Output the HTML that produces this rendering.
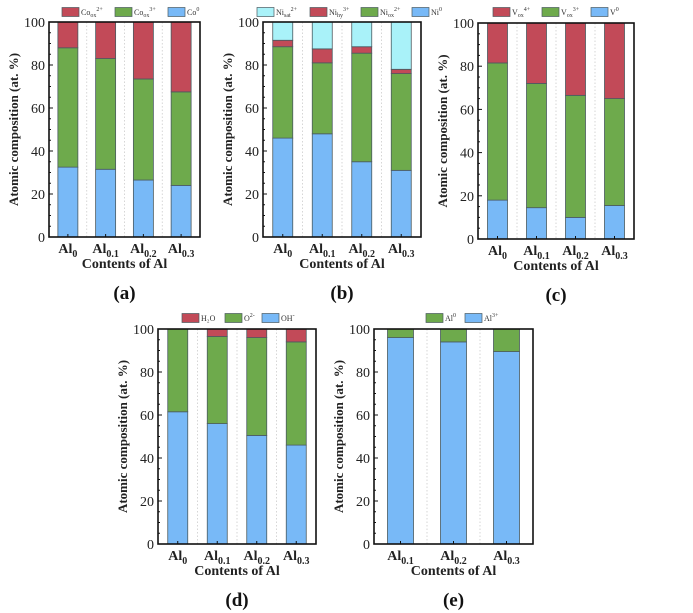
<!DOCTYPE html>
<html><head><meta charset="utf-8"><style>
body{margin:0;background:#fff;}
svg{display:block;font-family:"Liberation Serif",serif;}
</style></head><body>
<svg id="fig" width="693" height="613" viewBox="0 0 693 613" xmlns="http://www.w3.org/2000/svg"></svg>
<script>
// ---- data ----
const catsA = ["0","0.1","0.2","0.3"];
const coMetal = [32.5,31.5,26.5,24];
const coOx3 = [55.5,51.5,47,43.5];
const coOx2 = [12,17,26.5,32.5];

const catsB = ["0","0.1","0.2","0.3"];
const niMetal = [46,48,35,31];
const niOx2 = [42.5,33,50.5,45];
const niHy3 = [3,6.5,3,2];
const niSat2 = [8.5,12.5,11.5,22];

const catsC = ["0","0.1","0.2","0.3"];
const vMetal = [18,14.5,10,15.5];
const vOx3 = [63.5,57.5,56.5,49.5];
const vOx4 = [18.5,28,33.5,35];

const catsD = ["0","0.1","0.2","0.3"];
const ohVals = [61.5,56,50.5,46];
const o2Vals = [38.5,40.5,45.5,48];
const h2oVals = [0,3.5,4,6];

const catsE = ["0.1","0.2","0.3"];
const al3Vals = [96,94,89.5];
const al0Vals = [4,6,10.5];

const yTicks = [0,20,40,60,80,100];

const RED="#c24a58", GREEN="#6eaa4c", BLUE="#78b9f7", CYAN="#a9f2f9";
const NS="http://www.w3.org/2000/svg";
const svg=document.getElementById('fig');
function mk(tag,attrs,parent){const e=document.createElementNS(NS,tag);for(const k in attrs)e.setAttribute(k,attrs[k]);(parent||svg).appendChild(e);return e;}

function panel(p){
  const g=mk('g',{});
  
  
  const yS=v=>p.bottom-(v/100)*(p.bottom-p.top);
  const n=p.cats.length;
  const step=(p.right-p.left)/n;
  const xC=i=>p.left+step*(i+0.5);
  // separators
  for(let i=1;i<n;i++){
    const x=p.left+step*i;
    const l=mk('line',{x1:x,x2:x,y1:p.top,y2:p.bottom,stroke:'#ccc','stroke-width':0.8,'stroke-dasharray':'1.5,2'},g);
    
    
  }
  // bars
  for(let i=0;i<n;i++){
    let acc=0;
    p.series.forEach(s=>{
      const v=s.vals[i]; if(v<=0){return;}
      const r=mk('rect',{x:xC(i)-p.bw/2,width:p.bw,y:yS(acc+v),height:yS(acc)-yS(acc+v),fill:s.color,stroke:'#4a5a60','stroke-width':0.8},g);
      
      
      acc+=v;
    });
  }
  // frame
  const f=mk('rect',{x:p.left,y:p.top,width:p.right-p.left,height:p.bottom-p.top,fill:'none',stroke:'#111','stroke-width':1.6},g);
  
  
  // y ticks
  for(let v=0;v<=100;v+=5){
    const major=v%20===0;
    mk('line',{x1:p.left,x2:p.left+(major?4:2),y1:yS(v),y2:yS(v),stroke:'#111','stroke-width':1},g);
  }
  yTicks.forEach(v=>{
    const t=mk('text',{x:p.left-4,y:yS(v)+5,'text-anchor':'end','font-size':14,fill:'#222'},g);
    t.textContent=v;
    
    
  });
  // x ticks and labels
  for(let i=0;i<n;i++){
    mk('line',{x1:xC(i),x2:xC(i),y1:p.bottom,y2:p.bottom-3,stroke:'#111','stroke-width':1},g);
    const t=mk('text',{x:xC(i),y:p.bottom+16,'text-anchor':'middle','font-size':14,'font-weight':'bold',fill:'#222'},g);
    
    
    const a=mk('tspan',{},t);a.textContent='Al';
    const s=mk('tspan',{'font-size':10,dy:4},t);s.textContent=p.cats[i];
  }
  const xt=mk('text',{x:(p.left+p.right)/2,y:p.bottom+31,'text-anchor':'middle','font-size':14,'font-weight':'bold',fill:'#222'},g);
  xt.textContent='Contents of Al';
  
  
  const ym=(p.top+p.bottom)/2;
  const yt=mk('text',{x:p.left-31,y:ym,'text-anchor':'middle','font-size':13,'font-weight':'bold',fill:'#222',transform:`rotate(-90 ${p.left-31} ${ym})`},g);
  yt.textContent='Atomic composition (at. %)';
  
  
  const pl=mk('text',{x:(p.left+p.right)/2,y:p.bottom+62,'text-anchor':'middle','font-size':19,'font-weight':'bold',fill:'#111'},g);
  pl.textContent=p.label;
  
  
  // legend
  let lx=p.legX;
  p.legend.forEach(L=>{
    const r=mk('rect',{x:lx,y:p.legY-4.5,width:17,height:9,fill:L.color,stroke:'#4a5a60','stroke-width':0.7},g);
    
    
    const t=mk('text',{x:lx+19,y:p.legY+3,'font-size':8,fill:'#333'},g);
    
    
    const a=mk('tspan',{},t);a.textContent=L.base;
    if(L.sub){const s=mk('tspan',{'font-size':6,dy:2},t);s.textContent=L.sub;}
    if(L.sup){const s=mk('tspan',{'font-size':6,dy:L.sub?-6:-4},t);s.textContent=L.sup;}
    lx+=19+L.w+6;
  });
}

panel({name:'panel-a',label:'(a)',left:49,right:200,top:22,bottom:237,bw:20,cats:catsA,
  series:[{key:'co0',vals:coMetal,color:BLUE},{key:'co3',vals:coOx3,color:GREEN},{key:'co2',vals:coOx2,color:RED}],
  legX:62,legY:12,legend:[{base:'Co',sub:'ox',sup:'2+',color:RED,w:28},{base:'Co',sub:'ox',sup:'3+',color:GREEN,w:28},{base:'Co',sup:'0',color:BLUE,w:16}]});
panel({name:'panel-b',label:'(b)',left:263,right:421,top:22,bottom:237,bw:20,cats:catsB,
  series:[{key:'ni0',vals:niMetal,color:BLUE},{key:'niox',vals:niOx2,color:GREEN},{key:'nihy',vals:niHy3,color:RED},{key:'nisat',vals:niSat2,color:CYAN}],
  legX:257,legY:12,legend:[{base:'Ni',sub:'sat',sup:'2+',color:CYAN,w:28},{base:'Ni',sub:'hy',sup:'3+',color:RED,w:26},{base:'Ni',sub:'ox',sup:'2+',color:GREEN,w:26},{base:'Ni',sup:'0',color:BLUE,w:14}]});
panel({name:'panel-c',label:'(c)',left:478,right:634,top:23,bottom:239,bw:20,cats:catsC,
  series:[{key:'v0',vals:vMetal,color:BLUE},{key:'v3',vals:vOx3,color:GREEN},{key:'v4',vals:vOx4,color:RED}],
  legX:493,legY:12,legend:[{base:'V',sub:'ox',sup:'4+',color:RED,w:24},{base:'V',sub:'ox',sup:'3+',color:GREEN,w:24},{base:'V',sup:'0',color:BLUE,w:12}]});
panel({name:'panel-d',label:'(d)',left:158,right:316,top:329,bottom:544,bw:20,cats:catsD,
  series:[{key:'oh',vals:ohVals,color:BLUE},{key:'o2',vals:o2Vals,color:GREEN},{key:'h2o',vals:h2oVals,color:RED}],
  legX:182,legY:318,legend:[{base:'H₂O',color:RED,w:18},{base:'O',sup:'2-',color:GREEN,w:12},{base:'OH',sup:'-',color:BLUE,w:16}]});
panel({name:'panel-e',label:'(e)',left:374,right:533,top:329,bottom:544,bw:26,cats:catsE,
  series:[{key:'al3',vals:al3Vals,color:BLUE},{key:'al0',vals:al0Vals,color:GREEN}],
  legX:426,legY:318,legend:[{base:'Al',sup:'0',color:GREEN,w:14},{base:'Al',sup:'3+',color:BLUE,w:16}]});
</script>
</body></html>
